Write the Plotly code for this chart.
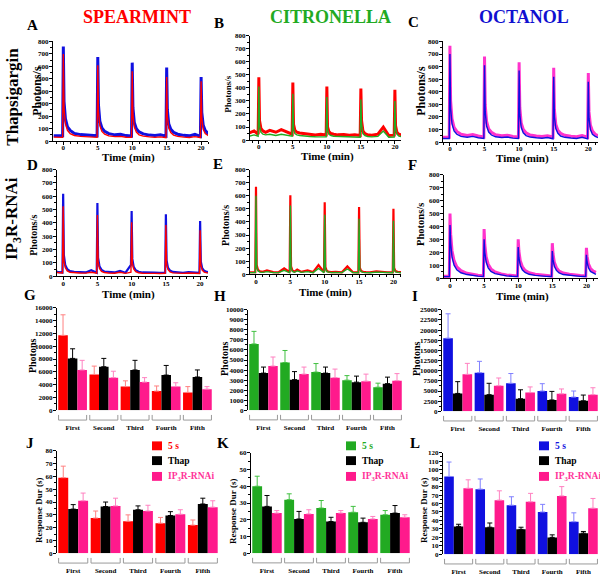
import plotly.graph_objects as go

W, H = 600, 581
FONT = "Liberation Serif"

# ---------------- time-course data (minutes, photons/s) ----------------
TIME = [-1.4, -0.7, -0.1,
        0.0, 0.1, 0.3, 0.6, 1.0, 1.6, 2.5, 3.3, 4.1, 4.9,
        5.0, 5.1, 5.3, 5.6, 6.0, 6.6, 7.5, 8.3, 9.1, 9.9,
        10.0, 10.1, 10.3, 10.6, 11.0, 11.6, 12.5, 13.3, 14.1, 14.9,
        15.0, 15.1, 15.3, 15.6, 16.0, 16.6, 17.5, 18.3, 19.1, 19.9,
        20.0, 20.1, 20.3, 20.6, 21.0, 21.4]

A_BLUE = [42, 40, 42,
          760, 320, 180, 115, 85, 62, 52, 48, 50, 42,
          675, 290, 160, 105, 78, 60, 50, 55, 44, 40,
          630, 270, 150, 100, 74, 58, 48, 44, 50, 40,
          590, 250, 140, 95, 70, 55, 46, 42, 55, 38,
          515, 230, 130, 85, 60, 50]
A_RED = [32, 30, 30,
         700, 260, 140, 85, 60, 45, 38, 34, 36, 30,
         610, 230, 125, 78, 55, 42, 36, 38, 31, 30,
         560, 210, 115, 72, 50, 40, 34, 30, 34, 28,
         515, 195, 105, 68, 48, 38, 32, 29, 36, 27,
         480, 180, 95, 60, 45, 38]
B_RED = [55, 70, 45,
         480, 150, 90, 70, 60, 75, 60, 80, 60, 45,
         440, 120, 75, 60, 55, 50, 45, 40, 45, 40,
         410, 100, 65, 50, 45, 40, 42, 38, 40, 35,
         395, 150, 70, 50, 40, 38, 45, 100, 35, 38,
         385, 110, 60, 45, 40, 35]
B_GREEN = [30, 40, 30,
           410, 110, 60, 45, 40, 45, 35, 45, 40, 30,
           355, 90, 50, 40, 35, 30, 28, 26, 28, 25,
           330, 80, 45, 35, 30, 28, 26, 24, 25, 22,
           310, 120, 50, 35, 28, 25, 28, 70, 22, 24,
           300, 90, 45, 30, 26, 24]
C_MAGENTA = [38, 36, 38,
             765, 330, 185, 118, 85, 62, 52, 60, 48, 40,
             680, 295, 165, 105, 78, 58, 50, 55, 44, 40,
             635, 275, 152, 100, 74, 56, 48, 44, 50, 40,
             590, 255, 142, 95, 70, 54, 46, 42, 52, 38,
             550, 240, 135, 88, 62, 50]
C_BLUE = [28, 26, 28,
          700, 270, 145, 88, 62, 45, 38, 45, 34, 28,
          610, 240, 128, 80, 56, 42, 36, 40, 31, 28,
          570, 220, 118, 74, 52, 40, 34, 30, 36, 26,
          520, 200, 108, 70, 48, 38, 32, 29, 38, 25,
          480, 190, 100, 62, 45, 36]
D_BLUE = [45, 30, 28,
          620, 160, 85, 52, 38, 32, 30, 28, 45, 26,
          550, 140, 75, 48, 35, 30, 28, 40, 26, 85,
          490, 130, 70, 45, 33, 28, 30, 27, 25, 26,
          465, 120, 65, 42, 32, 28, 26, 30, 25, 25,
          415, 110, 60, 40, 32, 30]
D_RED = [30, 25, 24,
         525, 120, 65, 40, 30, 26, 24, 23, 30, 22,
         460, 110, 58, 36, 28, 24, 22, 30, 21, 30,
         405, 100, 54, 34, 26, 22, 24, 21, 20, 21,
         385, 95, 50, 32, 25, 22, 21, 24, 20, 20,
         345, 88, 46, 30, 25, 24]
E_RED = [15, 18, 15,
         670, 70, 32, 22, 18, 30, 16, 15, 45, 15,
         605, 60, 28, 20, 35, 18, 30, 16, 70, 15,
         550, 55, 26, 18, 16, 18, 15, 60, 16, 15,
         515, 50, 25, 18, 16, 15, 22, 17, 15, 15,
         500, 48, 24, 18, 15, 15]
E_GREEN = [12, 14, 12,
           600, 55, 25, 16, 14, 20, 12, 12, 30, 11,
           525, 48, 22, 15, 25, 14, 20, 12, 45, 11,
           455, 44, 20, 14, 12, 14, 12, 40, 12, 11,
           425, 40, 19, 14, 12, 11, 16, 13, 11, 11,
           410, 38, 18, 14, 12, 11]
F_MAGENTA = [15, 15, 15,
             500, 340, 210, 135, 88, 58, 38, 28, 22, 18,
             380, 260, 165, 108, 72, 48, 32, 25, 20, 17,
             300, 210, 135, 90, 60, 42, 30, 24, 20, 17,
             270, 190, 122, 82, 55, 40, 30, 24, 20, 18,
             235, 170, 110, 75, 55, 45]
F_BLUE = [12, 12, 12,
          410, 270, 160, 100, 65, 42, 28, 20, 16, 13,
          300, 200, 125, 80, 52, 35, 24, 18, 15, 13,
          240, 160, 100, 65, 44, 30, 22, 17, 14, 13,
          210, 145, 92, 60, 40, 28, 21, 17, 14, 13,
          180, 125, 80, 52, 38, 30]

# ---------------- bar data ----------------
CATS = ["First", "Second", "Third", "Fourth", "Fifth"]
SERIES = ["5 s", "Thap", "IP3R-RNAi"]

G_5S = [11700, 5600, 3700, 3000, 2800]
G_5S_ERR = [3200, 1300, 900, 800, 900]
G_THAP = [8100, 6800, 6300, 5500, 5200]
G_THAP_ERR = [1500, 1300, 1500, 1500, 1100]
G_RNAI = [6300, 5100, 4400, 3700, 3300]
G_RNAI_ERR = [1500, 1000, 700, 600, 400]

H_5S = [6600, 4750, 3800, 3000, 2300]
H_5S_ERR = [1250, 1200, 850, 450, 400]
H_THAP = [3700, 3050, 3700, 2800, 2650]
H_THAP_ERR = [600, 800, 600, 600, 650]
H_RNAI = [4400, 3600, 3250, 2900, 2950]
H_RNAI_ERR = [900, 700, 850, 700, 700]

I_5S = [18000, 9500, 6900, 5000, 3500]
I_5S_ERR = [6000, 2800, 2400, 1800, 1500]
I_THAP = [4400, 4100, 3100, 2800, 2600]
I_THAP_ERR = [2900, 2800, 2200, 2100, 1400]
I_RNAI = [9100, 6300, 4600, 4300, 4100]
I_RNAI_ERR = [2700, 1900, 1400, 1200, 1700]

J_5S = [59, 27.5, 25, 23.5, 22]
J_5S_ERR = [9, 5.5, 5, 4.5, 4]
J_THAP = [34.5, 36.5, 34, 29.5, 38.5]
J_THAP_ERR = [3.5, 3.5, 3, 3, 4.5]
J_RNAI = [41, 37, 33, 30.5, 36]
J_RNAI_ERR = [6, 6, 4.5, 3.5, 5]

K_5S = [40, 32, 27, 24.5, 23]
K_5S_ERR = [6, 3.5, 4.5, 3.5, 2.5]
K_THAP = [28, 20.5, 19, 18.5, 24]
K_THAP_ERR = [6.5, 4.5, 2.5, 2.5, 4.5]
K_RNAI = [24, 23.5, 24, 20.5, 21.5]
K_RNAI_ERR = [1.5, 2.5, 1.5, 1.5, 1.5]

L_5S = [92, 77, 58, 50, 38.5]
L_5S_ERR = [17, 12, 10, 9, 10.5]
L_THAP = [33, 32, 29.5, 20, 25]
L_THAP_ERR = [2.5, 5, 2.5, 3, 2]
L_RNAI = [78, 64, 62, 69, 54.5]
L_RNAI_ERR = [10, 11, 10, 11, 11.5]

# ---------------- colours ----------------
RED = "#FF0000"
BLUE = "#1010E0"
GREEN = "#22AA22"
MAGENTA = "#FF33CC"
PINK = "#FF1A8C"
BLACK = "#000000"
ERR = {RED: "#FF8080", GREEN: "#40C040", BLUE: "#8080FF", BLACK: "#000000", PINK: "#FF80C0"}


def xd(a, b):
    return [a / W, b / W]


def yd(top, bot):
    return [(H - bot) / H, (H - top) / H]


fig = go.Figure()
layout = dict(
    width=W, height=H, autosize=False,
    margin=dict(l=0, r=0, t=0, b=0),
    paper_bgcolor="white", plot_bgcolor="white",
    font=dict(family=FONT, color="black", size=7, weight="bold"),
    showlegend=False, barmode="group", bargap=0.08, bargroupgap=0,
)

axis_common = dict(showgrid=False, zeroline=False, showline=True, linecolor="black",
                   linewidth=1, ticks="outside", ticklen=3, tickwidth=1, tickcolor="black",
                   tickfont=dict(size=7, family=FONT, weight="bold"))

# time panels: (index, x-domain px, y-domain px, x range, traces)
time_panels = [
    (1, (53, 208), (38, 139), (-1.5, 21.0), [(A_BLUE, BLUE, 3.0), (A_RED, RED, 1.4)]),
    (2, (250, 401), (32, 138), (-1.3, 20.9), [(B_RED, RED, 3.0), (B_GREEN, GREEN, 1.4)]),
    (3, (443, 598), (38, 140), (-1.0, 21.4), [(C_MAGENTA, MAGENTA, 3.0), (C_BLUE, BLUE, 1.4)]),
    (4, (57, 208), (168, 276), (-0.9, 21.15), [(D_BLUE, BLUE, 2.2), (D_RED, RED, 1.4)]),
    (5, (250, 401), (168, 274), (-0.87, 21.1), [(E_RED, RED, 2.2), (E_GREEN, GREEN, 1.4)]),
    (6, (444, 598), (173, 278), (-0.88, 21.7), [(F_MAGENTA, MAGENTA, 3.0), (F_BLUE, BLUE, 1.4)]),
]

for idx, xdp, ydp, xr, traces in time_panels:
    xa, ya = f"x{idx}", f"y{idx}"
    for vals, col, w in traces:
        fig.add_trace(go.Scatter(x=TIME, y=vals, mode="lines", line=dict(color=col, width=w),
                                 xaxis=xa, yaxis=ya, hoverinfo="skip"))
    layout[f"xaxis{idx}"] = dict(axis_common, domain=xd(*xdp), anchor=ya, range=list(xr),
                                 tick0=0, dtick=5, ticklabelstandoff=-3,
                                 minor=dict(ticks="outside", dtick=1, ticklen=2, tickcolor="black"))
    layout[f"yaxis{idx}"] = dict(axis_common, domain=yd(*ydp), anchor=xa, range=[0, 800],
                                 dtick=100, ticklabelstandoff=-1,
                                 minor=dict(ticks="outside", dtick=50, ticklen=2, tickcolor="black"))

# bar panels
bar_panels = [
    (7, (57, 213), (308, 412), 16000, 2000, [(G_5S, G_5S_ERR, RED), (G_THAP, G_THAP_ERR, BLACK), (G_RNAI, G_RNAI_ERR, PINK)]),
    (8, (248, 403), (310, 412), 10000, 1000, [(H_5S, H_5S_ERR, GREEN), (H_THAP, H_THAP_ERR, BLACK), (H_RNAI, H_RNAI_ERR, PINK)]),
    (9, (442, 599), (310, 413), 25000, 2500, [(I_5S, I_5S_ERR, BLUE), (I_THAP, I_THAP_ERR, BLACK), (I_RNAI, I_RNAI_ERR, PINK)]),
    (10, (57, 219), (453, 557), 80, 10, [(J_5S, J_5S_ERR, RED), (J_THAP, J_THAP_ERR, BLACK), (J_RNAI, J_RNAI_ERR, PINK)]),
    (11, (251, 411), (455, 557), 60, 10, [(K_5S, K_5S_ERR, GREEN), (K_THAP, K_THAP_ERR, BLACK), (K_RNAI, K_RNAI_ERR, PINK)]),
    (12, (443, 599), (455, 558), 120, 10, [(L_5S, L_5S_ERR, BLUE), (L_THAP, L_THAP_ERR, BLACK), (L_RNAI, L_RNAI_ERR, PINK)]),
]

shapes = []
for idx, xdp, ydp, ymax, dt, series in bar_panels:
    xa, ya = f"x{idx}", f"y{idx}"
    for (vals, err, col), name in zip(series, SERIES):
        fig.add_trace(go.Bar(x=CATS, y=vals, name=name, marker=dict(color=col, line=dict(width=0)),
                             error_y=dict(type="data", array=err, symmetric=False,
                                          arrayminus=[0] * len(err), color=ERR[col],
                                          thickness=1, width=2.5),
                             xaxis=xa, yaxis=ya, hoverinfo="skip"))
    layout[f"xaxis{idx}"] = dict(axis_common, domain=xd(*xdp), anchor=ya, type="category",
                                 range=[-0.5, 4.5], showline=False, tickcolor="rgba(0,0,0,0)",
                                 ticklen=3, ticklabelstandoff=7)
    layout[f"yaxis{idx}"] = dict(axis_common, domain=yd(*ydp), anchor=xa, range=[0, ymax],
                                 dtick=dt, tickformat="d", ticklabelstandoff=-1,
                                 minor=dict(ticks="outside", dtick=dt / 2, ticklen=2, tickcolor="black"))
    for i in range(len(CATS)):
        x0, x1 = i - 0.45, i + 0.45
        shapes.append(dict(type="path", xref=xa, yref=f"{ya} domain",
                           path=f"M {x0},-0.045 L {x0},-0.095 L {x1},-0.095 L {x1},-0.045",
                           line=dict(color="#9A9A9A", width=1)))

annotations = []


def ann(text, x, y, size, color="black", angle=0, xanchor="center"):
    annotations.append(dict(text=text, x=x / W, y=1 - y / H, xref="paper", yref="paper",
                            showarrow=False, textangle=angle, xanchor=xanchor, yanchor="middle",
                            font=dict(family=FONT, size=size, color=color, weight="bold")))


# column titles
ann("SPEARMINT", 137, 13, 18, RED)
ann("CITRONELLA", 330, 13, 18, GREEN)
ann("OCTANOL", 524, 13, 18, "#1010D0")
# row labels
ann("Thapsigargin", 13, 94, 17, angle=-90)
ann("IP<sub>3</sub>R-RNAi", 13, 218, 17, angle=-90)
# panel letters
for letter, x, y in [("A", 32, 21), ("B", 219, 19), ("C", 413, 18), ("D", 32, 163), ("E", 218, 162),
                     ("F", 412, 163), ("G", 30, 295), ("H", 220, 296), ("I", 415, 296),
                     ("J", 30, 445), ("K", 223, 445), ("L", 415, 445)]:
    ann(letter, x, y, 15)
# y titles
for text, x, y, s in [("Photons/s", 37, 88, 12), ("Photons/s", 228, 91, 9), ("Photons/s", 421, 88, 12),
                      ("Photons/s", 34, 235, 10), ("Photons/s", 226, 225, 10), ("Photons/s", 421, 224, 10.5),
                      ("Photons", 32, 357, 10), ("Photons", 224, 360, 10), ("Photons", 416, 360, 10),
                      ("Response Dur (s)", 39, 514, 9), ("Response Dur (s)", 233, 514, 9),
                      ("Response Dur (s)", 424, 514, 9)]:
    ann(text, x, y, s, angle=-90)
# x titles
for x, y in [(128, 156), (327, 155), (522, 157), (128, 295), (325, 293), (522, 297)]:
    ann("Time (min)", x, y, 11)

# legends (J, K, L)
for sq_x, c5 in [(152, RED), (346, GREEN), (539, BLUE)]:
    for (label, col), yc in zip([("5 s", c5), ("Thap", BLACK), ("IP<sub>3</sub>R-RNAi", "#FF3399")],
                                [448, 463, 479]):
        sq_col = PINK if label.startswith("IP") else col
        shapes.append(dict(type="rect", xref="paper", yref="paper",
                           x0=sq_x / W, x1=(sq_x + 10) / W, y0=1 - (yc + 4.5) / H, y1=1 - (yc - 4.5) / H,
                           fillcolor=sq_col, line=dict(width=0)))
        ann(label, sq_x + 14, yc, 9.5, col, xanchor="left")

layout["shapes"] = shapes
layout["annotations"] = annotations
fig.update_layout(**layout)
fig.write_html("out.html", config={"displayModeBar": False},
               post_script="document.body.style.margin='0';document.body.style.overflow='hidden';")
